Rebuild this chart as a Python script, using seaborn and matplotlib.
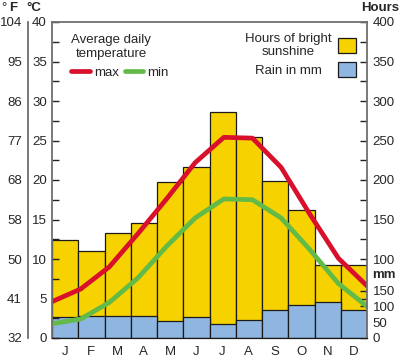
import numpy as np
import pandas as pd
import seaborn as sns
import matplotlib.pyplot as plt
from matplotlib.lines import Line2D
from matplotlib.patches import Patch
from matplotlib.ticker import FixedLocator, MultipleLocator
from matplotlib.transforms import blended_transform_factory

# climate chart data
months = ['J', 'F', 'M', 'A', 'M', 'J', 'J', 'A', 'S', 'O', 'N', 'D']
sunshine_hours = [124, 110, 133, 145, 198, 217, 286, 255, 199, 162, 93, 93]
rain_mm = [68, 70, 70, 71, 55, 68, 45, 58, 88, 103, 113, 88]
temp_max = [4.6, 6.2, 9.0, 13.2, 17.6, 22.2, 25.4, 25.3, 21.6, 15.7, 10.1, 6.6]
temp_min = [1.8, 2.4, 4.5, 7.6, 11.6, 15.2, 17.6, 17.5, 15.2, 11.2, 6.9, 4.0]
celsius_ticks = [0, 5, 10, 15, 20, 25, 30, 35, 40]
fahrenheit_labels = ['32', '41', '50', '58', '68', '77', '86', '95', '104']
hours_ticks = [100, 150, 200, 250, 300, 350, 400]
mm_ticks = [0, 50, 100, 150]

YELLOW = '#F6D200'
BLUE = '#8FB6E0'
RED = '#D8102C'
GREEN = '#62BA48'
EDGE = '#1a1a1a'
GREY = '#707070'
FS = 9.5

sns.set_style('white')
plt.rcParams['font.family'] = ['Liberation Sans', 'DejaVu Sans']
plt.rcParams['font.size'] = FS

df = pd.DataFrame({'month': range(12), 'sun': sunshine_hours, 'rain': rain_mm})

fig = plt.figure(figsize=(4, 3.59), dpi=100)
ax = fig.add_axes([52 / 400, 21 / 359, 315 / 400, 316 / 359])
ax_rain = ax.twinx()
ax_temp = ax.twinx()

# sunshine bars (hours scale), rain bars (mm scale) on top of them
sns.barplot(data=df, x='month', y='sun', color=YELLOW, saturation=1, width=1.0,
            edgecolor=EDGE, linewidth=0.9, errorbar=None, ax=ax)
sns.barplot(data=df, x='month', y='rain', color=BLUE, saturation=1, width=1.0,
            edgecolor=EDGE, linewidth=0.9, errorbar=None, ax=ax_rain)

# temperature lines run edge to edge
line_x = np.linspace(-0.5, 11.5, len(temp_max))
sns.lineplot(x=line_x, y=temp_max, color=RED, linewidth=3.4, ax=ax_temp)
sns.lineplot(x=line_x, y=temp_min, color=GREEN, linewidth=3.4, ax=ax_temp)

ax.set_xlim(-0.5, 11.5)
ax.set_ylim(0, 400)
ax_rain.set_ylim(0, 1000)
ax_temp.set_ylim(0, 40)
for a in (ax, ax_rain, ax_temp):
    a.set_xlabel('')
    a.set_ylabel('')

ax.set_xticks(range(12), labels=months)
ax.tick_params(axis='x', length=0, pad=6, labelsize=FS)

# left: Celsius
ax_temp.yaxis.tick_left()
ax_temp.yaxis.set_major_locator(FixedLocator(celsius_ticks))
ax_temp.yaxis.set_minor_locator(MultipleLocator(2.5))
ax_temp.tick_params(axis='y', which='both', direction='in', length=5, width=1,
                    color='#222222', pad=3.8, labelsize=FS)

# right: hours above, mm below
ax.yaxis.tick_right()
ax.yaxis.set_major_locator(FixedLocator(hours_ticks))
ax.yaxis.set_minor_locator(FixedLocator([125, 175, 225, 275, 325, 375]))
ax.tick_params(axis='y', which='both', direction='in', length=5, width=1,
               color='#222222', pad=4, labelsize=FS)
ax_rain.yaxis.set_major_locator(FixedLocator(mm_ticks))
ax_rain.yaxis.set_minor_locator(FixedLocator([25, 75, 125]))
ax_rain.tick_params(axis='y', which='both', direction='in', length=5, width=1,
                    color='#222222', pad=4, labelsize=FS)

for a in (ax, ax_rain):
    for s in a.spines.values():
        s.set_visible(False)
for side in ('left', 'right', 'top'):
    ax_temp.spines[side].set_color(GREY)
    ax_temp.spines[side].set_linewidth(1.3)
ax_temp.spines['bottom'].set_color(EDGE)
ax_temp.spines['bottom'].set_linewidth(0.9)

# Fahrenheit scale as a secondary axis further left
sec = ax_temp.secondary_yaxis(-24 / 315)
sec.set_yticks(celsius_ticks, labels=fahrenheit_labels)
sec.tick_params(length=0, pad=4.3, labelsize=FS)
sec.spines['left'].set_color(GREY)
sec.spines['left'].set_linewidth(1.3)

# axis headers
fig.text(1 / 400, 1 - 8 / 359, '°', fontsize=FS, va='center', ha='left')
fig.text(9 / 400, 1 - 8 / 359, 'F', fontsize=FS, fontweight='bold', va='center', ha='left')
fig.text(26 / 400, 1 - 8 / 359, '°C', fontsize=FS, fontweight='bold', va='center', ha='left')
fig.text(399 / 400, 1 - 8 / 359, 'Hours', fontsize=FS, fontweight='bold', va='center', ha='right')
ax_rain.text(1.016, 200, 'mm', fontsize=FS, fontweight='bold', va='center', ha='left',
             transform=blended_transform_factory(ax_rain.transAxes, ax_rain.transData))

# legends
temp_handles = [Line2D([], [], color=RED, linewidth=3.4), Line2D([], [], color=GREEN, linewidth=3.4)]
leg1 = ax_temp.legend(temp_handles, ['max', 'min'], title='Average daily\ntemperature', ncol=2,
                      frameon=False, loc='upper left', bbox_to_anchor=(0.032, 0.99),
                      handlelength=1.4, handletextpad=0.3, columnspacing=0.45,
                      fontsize=FS, title_fontsize=FS, borderpad=0.2, alignment='left')
leg1.get_title().set_multialignment('center')
ax_temp.add_artist(leg1)

box_handles = [Patch(facecolor=YELLOW, edgecolor=EDGE, linewidth=0.9),
               Patch(facecolor=BLUE, edgecolor=EDGE, linewidth=0.9)]
leg2 = ax_temp.legend(box_handles, ['Hours of bright\nsunshine', 'Rain in mm'], markerfirst=False,
                      frameon=False, loc='upper right', bbox_to_anchor=(0.994, 0.996),
                      handlelength=1.35, handleheight=1.35, handletextpad=0.5,
                      labelspacing=0.3, fontsize=FS, borderpad=0.2)
texts = leg2.get_texts()
texts[0].set_multialignment('center')
renderer = fig.canvas.get_renderer()
w0 = texts[0].get_window_extent(renderer).width
w1 = texts[1].get_window_extent(renderer).width
texts[1].set_x(-(w0 - w1) / 2)

fig.savefig('out.png', dpi=100)
